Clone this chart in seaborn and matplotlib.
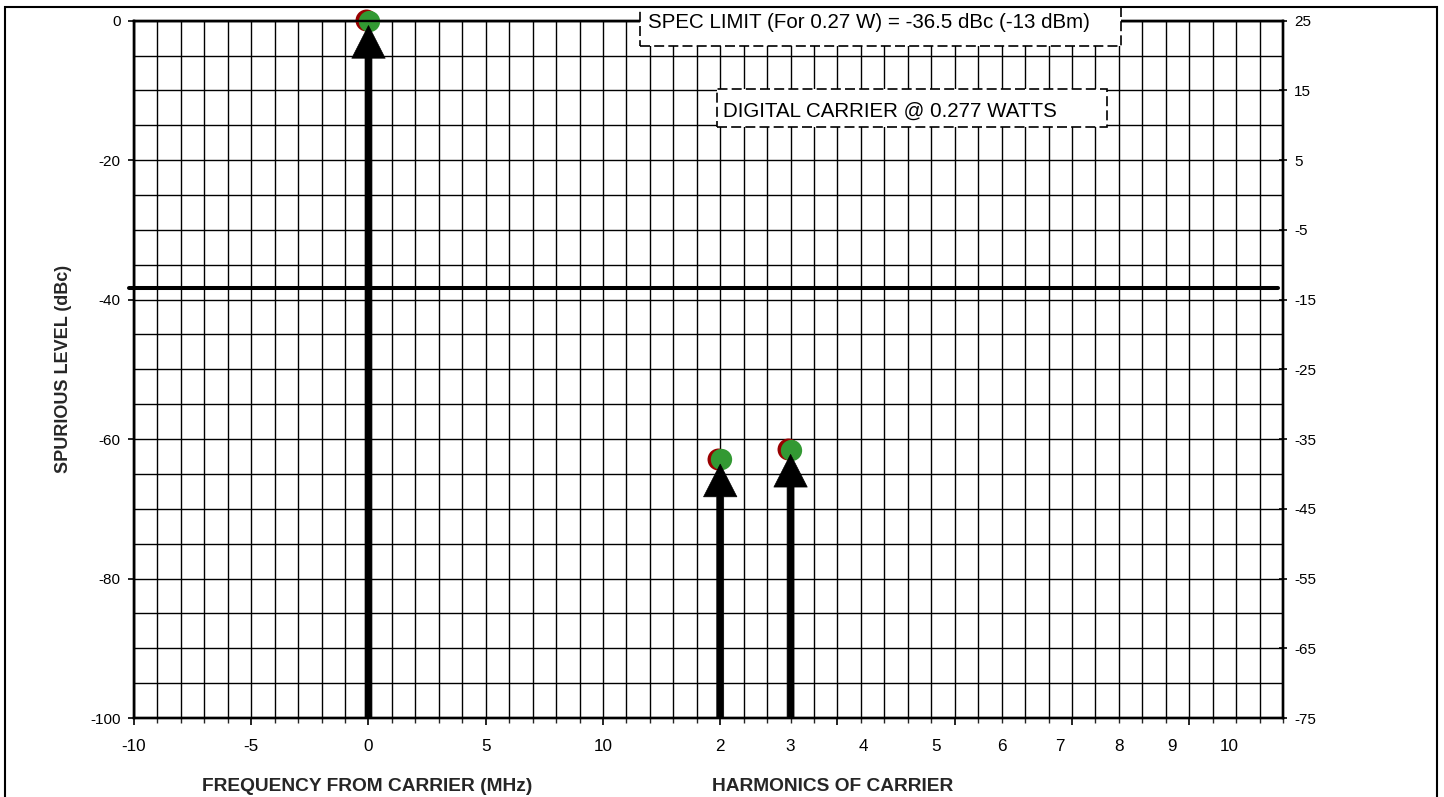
import numpy as np
import pandas as pd
import matplotlib
matplotlib.use("Agg")
import matplotlib.pyplot as plt
import matplotlib.transforms as mtrans
from matplotlib.patches import Rectangle
import seaborn as sns

# ---------------- data ----------------
carrier_offsets = [-10, -5, 0, 5, 10]               # MHz tick labels (left part)
carrier_offset_labels = ["-10", "-5", "0", "5", "10"]
harmonic_numbers = ["2", "3", "4", "5", "6", "7", "8", "9", "10"]
harmonic_label_pos = [15, 18, 21.1, 24.2, 27, 29.5, 32, 34.25, 36.7]

signal_names = ["carrier", "2nd harmonic", "3rd harmonic"]
signal_pos = [0, 15, 18]
signal_level = [0.0, -62.9, -61.5]                 # dBc

spec_level = -38.4                                  # drawn spec line (dBc)
right_offset = 25                                   # dBm = dBc + 25
spec_text = "SPEC LIMIT (For 0.27 W) = -36.5 dBc (-13 dBm)"
carrier_text = "DIGITAL CARRIER @ 0.277 WATTS"

df = pd.DataFrame({"name": signal_names, "pos": signal_pos, "level": signal_level})

# ---------------- style ----------------
sns.set_style("ticks")
plt.rcParams["font.family"] = ["Liberation Sans", "DejaVu Sans"]
plt.rcParams["axes.unicode_minus"] = False

W, H = 1444, 797
fig = plt.figure(figsize=(W / 100, H / 100), dpi=100)

def fx(px):
    return px / W

def fy(py):
    return 1 - py / H

L, R, T, B = 134, 1283, 20.7, 718
ax = fig.add_axes([fx(L), fy(B), fx(R - L), (B - T) / H])

ax.set_xlim(-10, 39)
ax.set_ylim(-100, 0)

ax.set_xticks(np.arange(-10, 40, 5))
ax.set_xticks(np.arange(-10, 40, 1), minor=True)
xt_labels = []
for v in np.arange(-10, 40, 5):
    xt_labels.append(carrier_offset_labels[carrier_offsets.index(v)] if v in carrier_offsets else "")
ax.set_xticklabels(xt_labels)
ax.set_yticks(np.arange(-100, 1, 20))
ax.set_yticks(np.arange(-100, 1, 5), minor=True)

ax.grid(which="both", color="black", lw=1.0)
ax.set_axisbelow(True)

ax.tick_params(axis="x", which="major", direction="out", length=5, width=1.2,
               pad=10, labelsize=12.3, colors="black")
ax.tick_params(axis="x", which="minor", direction="out", length=3.6, width=1.0)
ax.tick_params(axis="y", which="major", direction="out", length=4.3, width=1.2,
               pad=5.5, labelsize=11, colors="black")
ax.tick_params(axis="y", which="minor", length=0)

for s in ax.spines.values():
    s.set_visible(True)
    s.set_color("black")
    s.set_linewidth(1.7)

# harmonic labels
for lab, p in zip(harmonic_numbers, harmonic_label_pos):
    ax.annotate(lab, xy=(p, 0), xycoords=("data", "axes fraction"),
                xytext=(0, -15.2), textcoords="offset points",
                ha="center", va="top", fontsize=12.3, color="black")

# right axis
ax2 = ax.twinx()
ax2.set_ylim(-100 + right_offset, 0 + right_offset)
ax2.set_yticks(np.arange(-75, 26, 10))
ax2.tick_params(axis="y", direction="inout", length=6, width=1.2, pad=5,
                labelsize=11, colors="black")
for s in ax2.spines.values():
    s.set_color("black")
    s.set_linewidth(1.7)
ax2.grid(False)

# spec line
ax.axhline(spec_level, xmin=-0.004, xmax=0.996, color="black", lw=2.9,
           clip_on=False, zorder=3)

# markers
red_tr = ax.transData + mtrans.ScaledTranslation(-2.5 / 100, 0.8 / 100, fig.dpi_scale_trans)
green_tr = ax.transData + mtrans.ScaledTranslation(0.8 / 100, 0, fig.dpi_scale_trans)
sns.scatterplot(data=df, x="pos", y="level", ax=ax, marker="o", s=250,
                color="#990000", edgecolor="#990000", linewidth=0,
                clip_on=False, zorder=4, legend=False, transform=red_tr)
sns.scatterplot(data=df, x="pos", y="level", ax=ax, marker="o", s=235,
                color="#339933", edgecolor="#339933", linewidth=0,
                clip_on=False, zorder=5, legend=False, transform=green_tr)

# arrows
for p, lv in zip(df["pos"], df["level"]):
    ax.annotate("", xy=(p, lv), xytext=(p, -100),
                arrowprops=dict(arrowstyle="simple,head_length=2.35,head_width=2.4,tail_width=0.5",
                                mutation_scale=10, fc="black", ec="black", lw=0.5,
                                shrinkA=0, shrinkB=3.5),
                zorder=6, annotation_clip=False)

ax.set_xlabel("")
ax.set_ylabel("")
ax2.set_ylabel("")

# annotation boxes
dash = (0, (6, 2.5))
fig.add_artist(Rectangle((fx(640), fy(46)), fx(1121 - 640), (46 - 7) / H,
                         transform=fig.transFigure, fc="white", ec="black",
                         lw=1.2, ls=dash, zorder=10))
fig.text(fx(648), fy(27.9), spec_text, fontsize=14.8, ha="left", va="baseline",
         zorder=11, color="black")
fig.add_artist(Rectangle((fx(717), fy(127)), fx(1107 - 717), (127 - 89) / H,
                         transform=fig.transFigure, fc="white", ec="black",
                         lw=1.2, ls=dash, zorder=10))
fig.text(fx(723), fy(117), carrier_text, fontsize=14.8, ha="left", va="baseline",
         zorder=11, color="black")

# axis titles
fig.text(fx(64), fy(369), "SPURIOUS LEVEL (dBc)", rotation=90, fontsize=13,
         fontweight="bold", ha="center", va="center")
fig.text(fx(367), fy(791), "FREQUENCY FROM CARRIER (MHz)", fontsize=13.8,
         fontweight="bold", ha="center", va="baseline")
fig.text(fx(712), fy(791), "HARMONICS OF CARRIER", fontsize=13.8,
         fontweight="bold", ha="left", va="baseline")

# outer border
fig.add_artist(Rectangle((fx(5), -0.05), fx(1437 - 5), fy(7) + 0.05,
                         transform=fig.transFigure, fill=False, ec="black",
                         lw=1.5, zorder=12))

fig.savefig("out.png", dpi=100)
